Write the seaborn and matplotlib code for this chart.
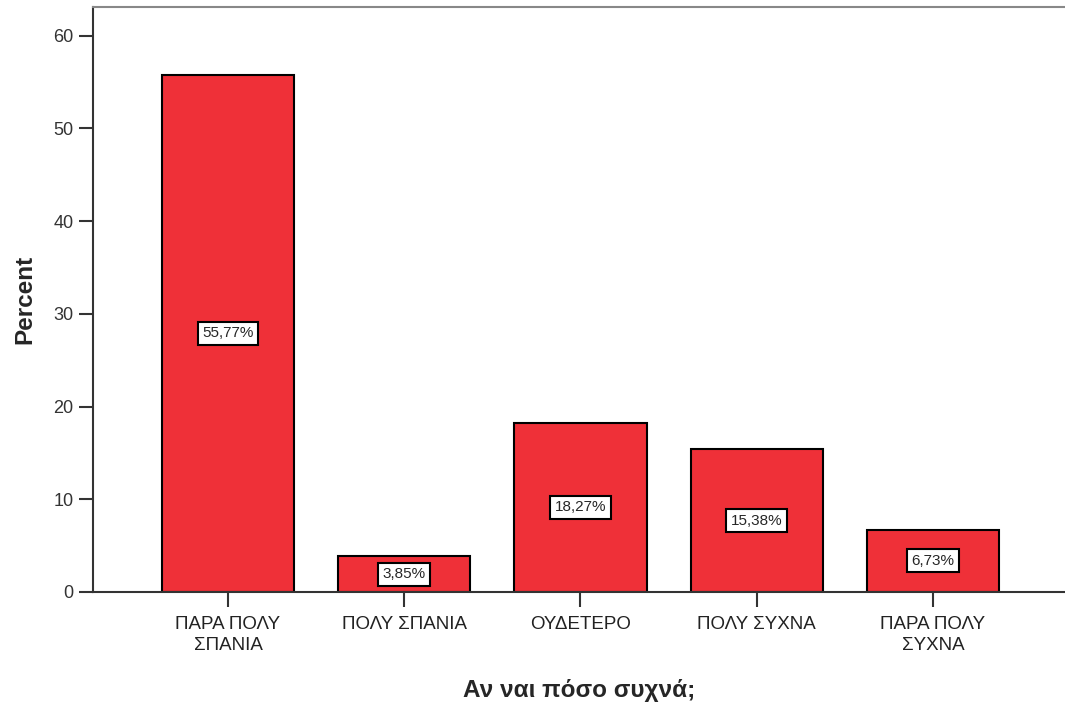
import matplotlib
matplotlib.use("Agg")
import matplotlib.pyplot as plt
import seaborn as sns
import pandas as pd

categories = ["ΠΑΡΑ ΠΟΛΥ\nΣΠΑΝΙΑ", "ΠΟΛΥ ΣΠΑΝΙΑ", "ΟΥΔΕΤΕΡΟ", "ΠΟΛΥ ΣΥΧΝΑ", "ΠΑΡΑ ΠΟΛΥ\nΣΥΧΝΑ"]
percents = [55.77, 3.85, 18.27, 15.38, 6.73]
bar_labels = ["55,77%", "3,85%", "18,27%", "15,38%", "6,73%"]

df = pd.DataFrame({"category": categories, "percent": percents})

sns.set_style("white")
plt.rcParams["font.family"] = ["Liberation Sans", "DejaVu Sans"]

fig = plt.figure(figsize=(10.65, 7.06), dpi=100)
ax = fig.add_axes([93 / 1065, 1 - 592 / 706, 1 - 93 / 1065, (592 - 7) / 706])

sns.barplot(data=df, x="category", y="percent", color="#EF3038", saturation=1,
            width=0.75, edgecolor="black", linewidth=1.5, ax=ax)

ax.bar_label(ax.containers[0], labels=bar_labels, label_type="center",
             fontsize=11, bbox=dict(boxstyle="square,pad=0.3", fc="white",
                                    ec="black", lw=1.5))

ax.set_xlim(-0.766, 4.749)
ax.set_ylim(0, 63.1)
ax.set_yticks([0, 10, 20, 30, 40, 50, 60])

ax.spines["right"].set_visible(False)
ax.spines["left"].set_color("#333333")
ax.spines["bottom"].set_color("#333333")
ax.spines["top"].set_color("#888888")
for s in ["left", "bottom", "top"]:
    ax.spines[s].set_linewidth(1.5)

ax.tick_params(axis="y", length=10, width=1.5, color="#333333", labelsize=13,
               labelcolor="#333333", left=True, pad=4)
ax.tick_params(axis="x", length=11, width=1.5, color="#333333", labelsize=13.5,
               labelcolor="#222222", bottom=True, pad=6)
for t in ax.get_xticklabels():
    t.set_linespacing(1.35)

ax.set_ylabel("Percent", fontsize=17.5, fontweight="bold", labelpad=12)
ax.set_xlabel("Αν ναι πόσο συχνά;", fontsize=17.5, fontweight="bold", labelpad=18)

fig.savefig("out.png", dpi=100)
